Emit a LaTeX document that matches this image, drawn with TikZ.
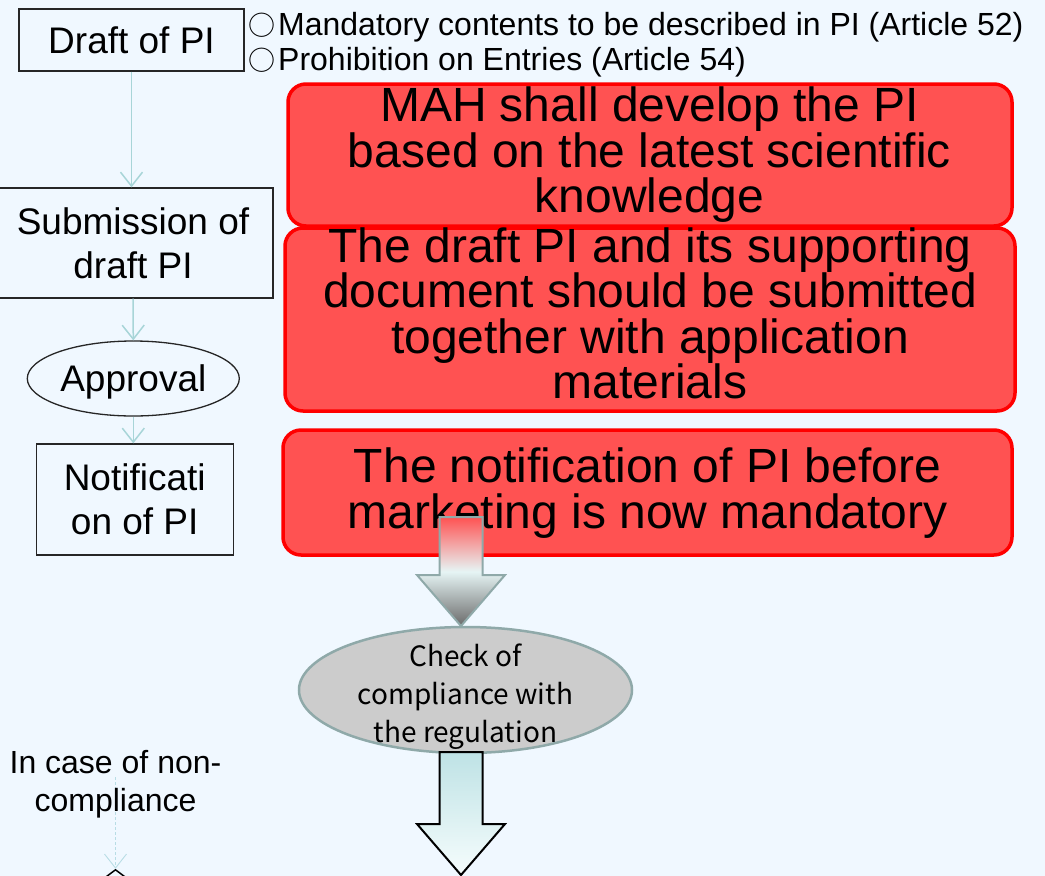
\documentclass[tikz,border=0pt]{standalone}
\usepackage{fontspec}
\setmainfont{Liberation Sans}
\newfontfamily\cjk{Noto Sans CJK JP}
\usetikzlibrary{arrows.meta,shapes.geometric,calc}
\definecolor{bgc}{HTML}{F0F8FF}
\definecolor{redfill}{HTML}{FF5252}
\definecolor{redline}{HTML}{FF0000}
\definecolor{arrowc}{HTML}{A8D5D8}
\definecolor{dashc}{HTML}{B8DDE5}
\definecolor{tealgray}{HTML}{8FA9A9}
\definecolor{ellfill}{HTML}{CCCCCC}
\definecolor{paletop}{HTML}{BEE2E5}
\definecolor{palebot}{HTML}{F6FDFD}
\definecolor{palemid}{HTML}{E6F5F5}
\definecolor{darktip}{HTML}{6A6A6A}
\tikzset{
  flowbox/.style={draw=black!85, line width=1.3pt, fill=bgc, inner sep=0pt, align=center,
    font=\fontsize{37}{44.4}\selectfont},
  flowell/.style={ellipse, draw=black!85, line width=1.3pt, fill=bgc, inner sep=0pt,
    font=\fontsize{37}{44.4}\selectfont},
  flowarrow/.style={draw=arrowc, line width=1.5pt, -{Straight Barb[length=14pt,width=22pt]}},
  dasharrow/.style={draw=dashc, line width=0.9pt, dash pattern=on 3pt off 2pt,
    -{Straight Barb[length=14pt,width=22pt]}},
  redbox/.style={draw=redline, fill=redfill, line width=3.5pt, rounded corners=18pt, inner sep=0pt},
  redtext/.style={align=center, inner sep=0pt, font=\fontsize{48}{45.5}\selectfont},
  notetext/.style={anchor=base west, inner sep=0pt, font=\fontsize{32}{38}\selectfont},
  blockarrow/.style={line width=2pt, line join=miter},
}
\newcommand{\bul}{{\cjk\fontsize{27}{30}\selectfont ○}\kern3pt}
\begin{document}
\begin{tikzpicture}[x=1pt,y=-1pt]
\useasboundingbox (0,0) rectangle (1045,876);
\clip (0,0) rectangle (1045,876);
\fill[bgc] (0,0) rectangle (1045,876);

% left flow
\node[flowbox, minimum width=225pt, minimum height=62pt] (draft) at (131.5,40) {Draft of PI};
\node[flowbox, minimum width=280pt, minimum height=110pt] (sub) at (133,243) {Submission of\\draft PI};
\node[flowell, minimum width=212pt, minimum height=75pt, text depth=0pt] (app) at (133.3,378.5) {Approval};
\node[flowbox, minimum width=197pt, minimum height=111pt] (noti) at (134.7,499.5) {Notificati\\on of PI};

\draw[flowarrow] (draft.south) -- (draft.south |- sub.north);
\draw[flowarrow] (sub.south) -- (app.north);
\draw[flowarrow] (app.south) -- (app.south |- noti.north);

% notes
\node[notetext] (n1) at (248,35) {\bul Mandatory contents to be described in PI (Article 52)};
\node[notetext] (n2) at (248,70) {\bul Prohibition on Entries (Article 54)};

% red boxes
\node[redbox, minimum width=724pt, minimum height=142pt] (r1) at (650,155) {};
\node[redtext] (t1) at (649.5,155) {MAH shall develop the PI\\based on the latest scientific\\knowledge};
\node[redbox, minimum width=730pt, minimum height=183pt] (r2) at (650,319.5) {};
\node[redtext] (t2) at (650,313.5) {The draft PI and its supporting\\document should be submitted\\together with application\\materials};
\node[redbox, minimum width=729pt, minimum height=125pt] (r3) at (647.5,492.5) {};
\node[redtext] (t3) at (647.5,493) {The notification of PI before\\marketing is now mandatory};

% check ellipse
\node[ellipse, draw=tealgray, fill=ellfill, line width=2.5pt, minimum width=333pt, minimum height=126pt, inner sep=0pt] (chk) at (465.5,690) {};
\node[align=center, inner sep=0pt, font=\cjk\fontsize{28}{38}\selectfont] (chkt) at (465.5,697) {Check of\\compliance with\\the regulation};

% block arrows
\coordinate (a1) at (461,626);
\shade[top color=redfill, bottom color=darktip, middle color=palemid, draw=tealgray, blockarrow]
  ($(a1)+(-21.5,-109)$) -- ($(a1)+(21.5,-109)$) -- ($(a1)+(21.5,-51)$) -- ($(a1)+(44,-51)$)
  -- (a1) -- ($(a1)+(-44,-51)$) -- ($(a1)+(-21.5,-51)$) -- cycle;
\coordinate (a2) at (461,875);
\shade[top color=paletop, bottom color=palebot, draw=black, blockarrow]
  ($(a2)+(-21.5,-123)$) -- ($(a2)+(21.5,-123)$) -- ($(a2)+(21.5,-51)$) -- ($(a2)+(44,-51)$)
  -- (a2) -- ($(a2)+(-44,-51)$) -- ($(a2)+(-21.5,-51)$) -- cycle;

% non-compliance branch
\coordinate (nc) at (115.5,777);
\node[diamond, draw=black, line width=1.5pt, minimum width=160pt, minimum height=119pt, inner sep=0pt] (dia) at (115.5,929) {};
\draw[dasharrow] (nc) -- (dia.north);
\node[align=center, inner sep=0pt, font=\fontsize{32}{38.4}\selectfont] (inc) at (115.5,784) {In case of non-\\compliance};
\end{tikzpicture}
\end{document}
